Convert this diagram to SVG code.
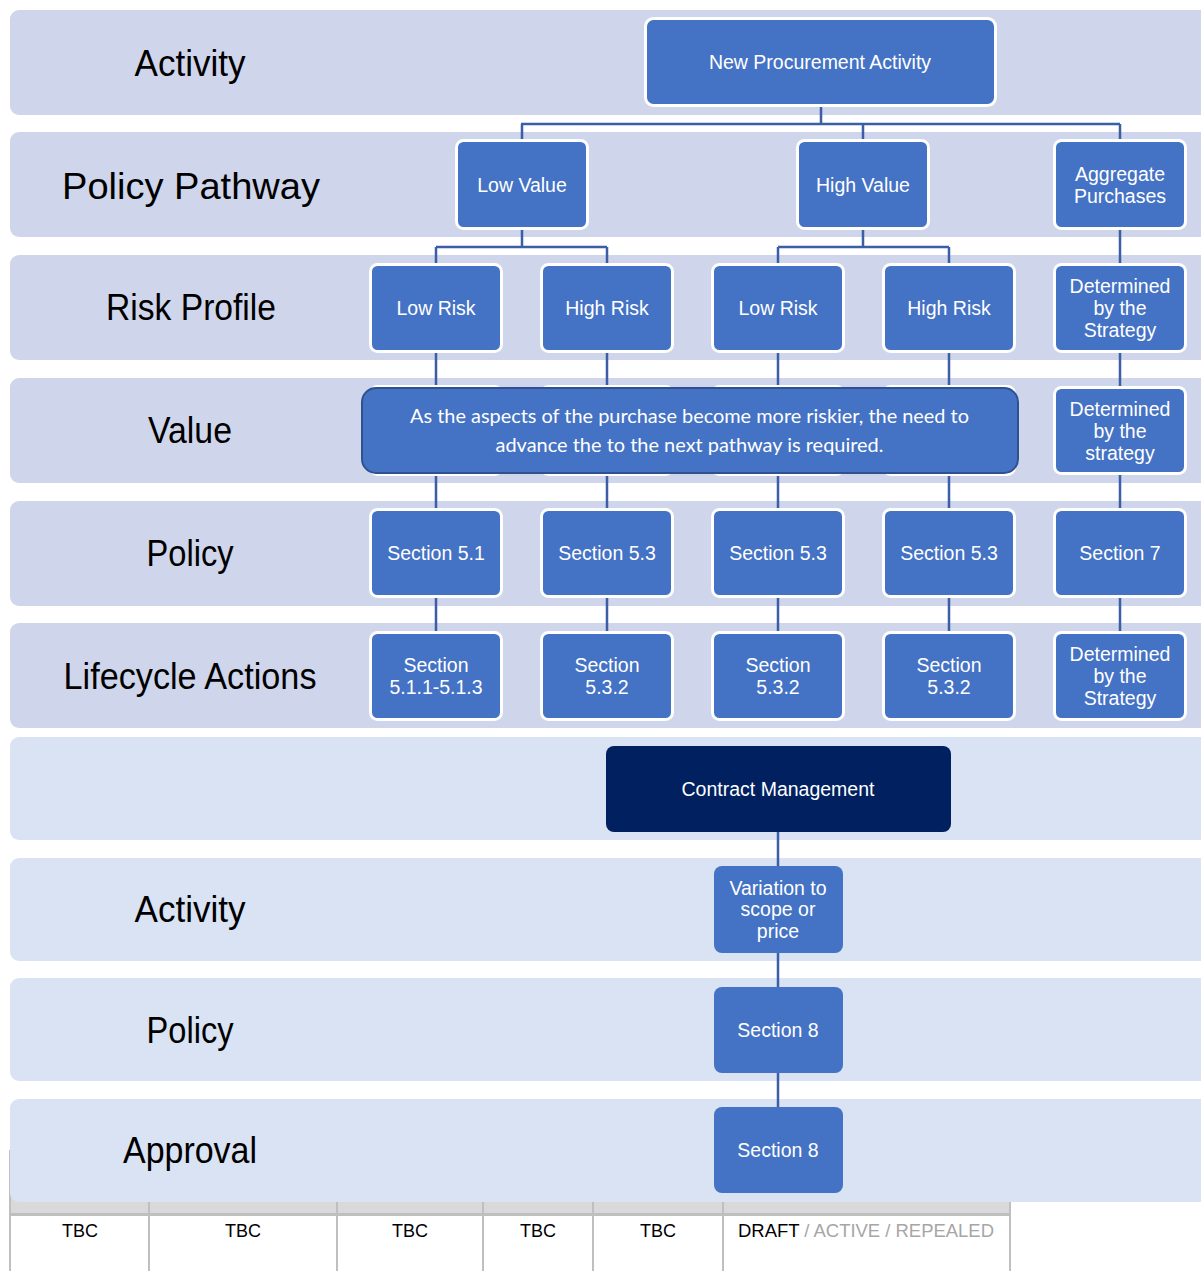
<svg xmlns="http://www.w3.org/2000/svg" width="1201" height="1271" viewBox="0 0 1201 1271">
  <style>
    .band-a { fill: #CFD5EA; }
    .band-b { fill: #DAE3F3; }
    .label { font-family: "Liberation Sans", Arial, sans-serif; font-size: 36px; fill: #000; text-anchor: middle; }
    .node { fill: #4472C4; stroke: #FFFFFF; stroke-width: 3; }
    .node-plain { fill: #4472C4; }
    .node-dark { fill: #002060; }
    .ntext { font-family: "Liberation Sans", Arial, sans-serif; font-size: 19.5px; fill: #FFFFFF; text-anchor: middle; }
    .conn { stroke: #3B5EA6; stroke-width: 2.5; fill: none; }
    .note { fill: #4472C4; stroke: #2F528F; stroke-width: 2; }
    .ntext-note { font-family: Lato, "Open Sans", sans-serif; font-size: 19px; fill: #FFFFFF; text-anchor: middle; }
    .grid { stroke: #BFBFBF; stroke-width: 2; fill: none; }
    .cell { font-family: "Liberation Sans", Arial, sans-serif; font-size: 18px; fill: #000; }
    .muted { fill: #A6A6A6; }
  </style>

  <!-- status table (sits partly under the last band) -->
  <g id="status-table">
    <rect x="10" y="1150" width="1000" height="64" fill="#D9D9D9"/>
    <path class="grid" d="M10 1150V1271M149 1150V1271M337 1150V1271M483 1150V1271M593 1150V1271M723 1150V1271M1010 1150V1271"/>
    <line x1="10" y1="1214.5" x2="1010" y2="1214.5" stroke="#BFBFBF" stroke-width="3"/>
    <text class="cell" x="80" y="1237" text-anchor="middle">TBC</text>
    <text class="cell" x="243" y="1237" text-anchor="middle">TBC</text>
    <text class="cell" x="410" y="1237" text-anchor="middle">TBC</text>
    <text class="cell" x="538" y="1237" text-anchor="middle">TBC</text>
    <text class="cell" x="658" y="1237" text-anchor="middle">TBC</text>
    <text class="cell" x="738" y="1237" textLength="256" lengthAdjust="spacingAndGlyphs">DRAFT<tspan class="muted"> / ACTIVE / REPEALED</tspan></text>
  </g>

  <!-- swim-lane bands -->
  <g id="bands">
    <rect class="band-a" x="10" y="10" width="1200" height="105" rx="9"/>
    <rect class="band-a" x="10" y="132" width="1200" height="105" rx="9"/>
    <rect class="band-a" x="10" y="255" width="1200" height="105" rx="9"/>
    <rect class="band-a" x="10" y="378" width="1200" height="105" rx="9"/>
    <rect class="band-a" x="10" y="501" width="1200" height="105" rx="9"/>
    <rect class="band-a" x="10" y="623" width="1200" height="105" rx="9"/>
    <rect class="band-b" x="10" y="737" width="1200" height="103" rx="9"/>
    <rect class="band-b" x="10" y="858" width="1200" height="103" rx="9"/>
    <rect class="band-b" x="10" y="978" width="1200" height="103" rx="9"/>
    <rect class="band-b" x="10" y="1099" width="1200" height="103" rx="9"/>
  </g>

  <!-- lane labels -->
  <g id="lane-labels">
    <text class="label" x="190" y="76" textLength="111" lengthAdjust="spacingAndGlyphs">Activity</text>
    <text class="label" x="191" y="199" font-size="42" textLength="258" lengthAdjust="spacingAndGlyphs">Policy Pathway</text>
    <text class="label" x="191" y="320" textLength="170" lengthAdjust="spacingAndGlyphs">Risk Profile</text>
    <text class="label" x="190" y="443" textLength="84" lengthAdjust="spacingAndGlyphs">Value</text>
    <text class="label" x="190" y="566" textLength="87" lengthAdjust="spacingAndGlyphs">Policy</text>
    <text class="label" x="190" y="689" textLength="253" lengthAdjust="spacingAndGlyphs">Lifecycle Actions</text>
    <text class="label" x="190" y="922" textLength="111" lengthAdjust="spacingAndGlyphs">Activity</text>
    <text class="label" x="190" y="1043" textLength="87" lengthAdjust="spacingAndGlyphs">Policy</text>
    <text class="label" x="190" y="1163" textLength="134" lengthAdjust="spacingAndGlyphs">Approval</text>
  </g>

  <!-- connectors -->
  <g id="connectors">
    <path class="conn" d="M821 107V124M521 124H1120M522 124V140M863 124V140M1120 124V631"/>
    <path class="conn" d="M522 230V247M436 247H607M436 247V631M607 247V631"/>
    <path class="conn" d="M863 230V247M778 247H949M778 247V631M949 247V631"/>
    <path class="conn" d="M778 832V1107"/>
  </g>

  <!-- activity -->
  <g id="n-new-procurement">
    <rect class="node" x="645.5" y="18.5" width="350" height="87" rx="8"/>
    <text class="ntext" x="820" y="69">New Procurement Activity</text>
  </g>

  <!-- policy pathway -->
  <g id="n-low-value">
    <rect class="node" x="456.5" y="140.5" width="131" height="88" rx="7"/>
    <text class="ntext" x="522" y="192">Low Value</text>
  </g>
  <g id="n-high-value">
    <rect class="node" x="797.5" y="140.5" width="131" height="88" rx="7"/>
    <text class="ntext" x="863" y="192">High Value</text>
  </g>
  <g id="n-aggregate">
    <rect class="node" x="1054.5" y="140.5" width="131" height="88" rx="7"/>
    <text class="ntext" x="1120" y="181">Aggregate</text>
    <text class="ntext" x="1120" y="203">Purchases</text>
  </g>

  <!-- risk profile -->
  <g id="n-risk-1">
    <rect class="node" x="370.5" y="264.5" width="131" height="87" rx="7"/>
    <text class="ntext" x="436" y="315">Low Risk</text>
  </g>
  <g id="n-risk-2">
    <rect class="node" x="541.5" y="264.5" width="131" height="87" rx="7"/>
    <text class="ntext" x="607" y="315">High Risk</text>
  </g>
  <g id="n-risk-3">
    <rect class="node" x="712.5" y="264.5" width="131" height="87" rx="7"/>
    <text class="ntext" x="778" y="315">Low Risk</text>
  </g>
  <g id="n-risk-4">
    <rect class="node" x="883.5" y="264.5" width="131" height="87" rx="7"/>
    <text class="ntext" x="949" y="315">High Risk</text>
  </g>
  <g id="n-risk-5">
    <rect class="node" x="1054.5" y="264.5" width="131" height="87" rx="7"/>
    <text class="ntext" x="1120" y="293">Determined</text>
    <text class="ntext" x="1120" y="315">by the</text>
    <text class="ntext" x="1120" y="337">Strategy</text>
  </g>

  <!-- value -->
  <g id="n-value-1"><rect class="node" x="370.5" y="386.5" width="131" height="88" rx="7"/></g>
  <g id="n-value-2"><rect class="node" x="541.5" y="386.5" width="131" height="88" rx="7"/></g>
  <g id="n-value-3"><rect class="node" x="712.5" y="386.5" width="131" height="88" rx="7"/></g>
  <g id="n-value-4"><rect class="node" x="883.5" y="386.5" width="131" height="88" rx="7"/></g>
  <g id="n-value-5">
    <rect class="node" x="1054.5" y="387.5" width="131" height="86" rx="7"/>
    <text class="ntext" x="1120" y="416">Determined</text>
    <text class="ntext" x="1120" y="438">by the</text>
    <text class="ntext" x="1120" y="460">strategy</text>
  </g>
  <g id="n-value-note">
    <rect class="note" x="362" y="388" width="656" height="85" rx="14"/>
    <text class="ntext-note" x="689.5" y="423" textLength="559" lengthAdjust="spacingAndGlyphs">As the aspects of the purchase become more riskier, the need to</text>
    <text class="ntext-note" x="689.5" y="452" textLength="388" lengthAdjust="spacingAndGlyphs">advance the to the next pathway is required.</text>
  </g>

  <!-- policy -->
  <g id="n-policy-1">
    <rect class="node" x="370.5" y="509.5" width="131" height="87" rx="7"/>
    <text class="ntext" x="436" y="560">Section 5.1</text>
  </g>
  <g id="n-policy-2">
    <rect class="node" x="541.5" y="509.5" width="131" height="87" rx="7"/>
    <text class="ntext" x="607" y="560">Section 5.3</text>
  </g>
  <g id="n-policy-3">
    <rect class="node" x="712.5" y="509.5" width="131" height="87" rx="7"/>
    <text class="ntext" x="778" y="560">Section 5.3</text>
  </g>
  <g id="n-policy-4">
    <rect class="node" x="883.5" y="509.5" width="131" height="87" rx="7"/>
    <text class="ntext" x="949" y="560">Section 5.3</text>
  </g>
  <g id="n-policy-5">
    <rect class="node" x="1054.5" y="509.5" width="131" height="87" rx="7"/>
    <text class="ntext" x="1120" y="560">Section 7</text>
  </g>

  <!-- lifecycle actions -->
  <g id="n-life-1">
    <rect class="node" x="370.5" y="632.5" width="131" height="87" rx="7"/>
    <text class="ntext" x="436" y="672">Section</text>
    <text class="ntext" x="436" y="694">5.1.1-5.1.3</text>
  </g>
  <g id="n-life-2">
    <rect class="node" x="541.5" y="632.5" width="131" height="87" rx="7"/>
    <text class="ntext" x="607" y="672">Section</text>
    <text class="ntext" x="607" y="694">5.3.2</text>
  </g>
  <g id="n-life-3">
    <rect class="node" x="712.5" y="632.5" width="131" height="87" rx="7"/>
    <text class="ntext" x="778" y="672">Section</text>
    <text class="ntext" x="778" y="694">5.3.2</text>
  </g>
  <g id="n-life-4">
    <rect class="node" x="883.5" y="632.5" width="131" height="87" rx="7"/>
    <text class="ntext" x="949" y="672">Section</text>
    <text class="ntext" x="949" y="694">5.3.2</text>
  </g>
  <g id="n-life-5">
    <rect class="node" x="1054.5" y="632.5" width="131" height="87" rx="7"/>
    <text class="ntext" x="1120" y="661">Determined</text>
    <text class="ntext" x="1120" y="683">by the</text>
    <text class="ntext" x="1120" y="705">Strategy</text>
  </g>

  <!-- contract management -->
  <g id="n-contract-management">
    <rect class="node-dark" x="606" y="746" width="345" height="86" rx="8"/>
    <text class="ntext" x="778" y="796">Contract Management</text>
  </g>
  <g id="n-variation">
    <rect class="node-plain" x="714" y="866" width="129" height="87" rx="8"/>
    <text class="ntext" x="778" y="895">Variation to</text>
    <text class="ntext" x="778" y="916">scope or</text>
    <text class="ntext" x="778" y="938">price</text>
  </g>
  <g id="n-policy-section-8">
    <rect class="node-plain" x="714" y="987" width="129" height="86" rx="8"/>
    <text class="ntext" x="778" y="1037">Section 8</text>
  </g>
  <g id="n-approval-section-8">
    <rect class="node-plain" x="714" y="1107" width="129" height="86" rx="8"/>
    <text class="ntext" x="778" y="1157">Section 8</text>
  </g>
</svg>
